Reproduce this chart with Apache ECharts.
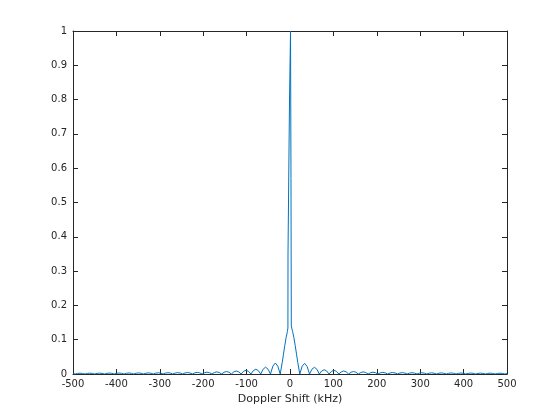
<!DOCTYPE html>
<html>
<head>
<meta charset="utf-8">
<script src="https://cdn.jsdelivr.net/npm/echarts@6/dist/echarts.min.js"></script>
<style>
html,body{margin:0;padding:0;background:#fff;}
#chart{width:560px;height:420px;}
</style>
</head>
<body>
<div id="chart"></div>
<script>
// Doppler shift (kHz) and normalized magnitude
const leftFreq = [-500,-495,-489.4,-483.75,-478.1,-472.5,-466.9,-461.25,-455.6,-450,-444.4,-438.75,-433.1,-427.5,-421.9,-416.25,-410.6,-405,-399.4,-393.75,-388.1,-382.5,-376.9,-371.25,-365.6,-360,-354.4,-348.75,-343.1,-337.5,-331.9,-326.25,-320.6,-315,-309.4,-303.75,-298.1,-292.5,-286.9,-281.25,-275.6,-270,-264.4,-258.75,-253.1,-247.5,-241.9,-236.25,-230.6,-225,-219.4,-213.75,-208.1,-202.5,-196.9,-191.25,-185.6,-180,-174.4,-168.75,-163.1,-157.5,-151.9,-146.25,-140.6,-135,-129.4,-123.75,-118.1,-112.5,-106.9,-101.25,-95.6,-90,-84.4,-78.75,-73.1,-67.5,-61.9,-56.25,-50.6,-45,-39.4,-33.75,-28.1];
const leftMag = [0.0013,0,0.0016,0.0023,0.0016,0,0.0017,0.0024,0.0017,0,0.0018,0.0025,0.0018,0,0.0019,0.0027,0.0019,0,0.0020,0.0028,0.0020,0,0.0021,0.0030,0.0021,0,0.0022,0.0031,0.0022,0,0.0023,0.0033,0.0023,0,0.0025,0.0035,0.0025,0,0.0026,0.0037,0.0026,0,0.0028,0.0040,0.0028,0,0.0030,0.0043,0.0030,0,0.0033,0.0047,0.0033,0,0.0037,0.0053,0.0037,0,0.0043,0.0062,0.0043,0,0.0051,0.0073,0.0051,0,0.0062,0.0088,0.0062,0,0.0077,0.011,0.0077,0,0.0098,0.014,0.0098,0,0.014,0.020,0.014,0,0.023,0.032,0.023];
const centerFreq = [-22.5,-18,-15,-12,-9,-6,-4.8,-4.6,-1.2,1.2,2.3,3,4,6,9,12,15,18,22.5];
const centerMag = [0,0.033,0.058,0.083,0.106,0.124,0.134,0.35,0.79,1.0,0.57,0.14,0.134,0.124,0.106,0.083,0.058,0.033,0];
const rightFreq = [28.1,33.75,39.4,45,50.6,56.25,61.9,67.5,73.1,78.75,84.4,90,95.6,101.25,106.9,112.5,118.1,123.75,129.4,135,140.6,146.25,151.9,157.5,163.1,168.75,174.4,180,185.6,191.25,196.9,202.5,208.1,213.75,219.4,225,230.6,236.25,241.9,247.5,253.1,258.75,264.4,270,275.6,281.25,286.9,292.5,298.1,303.75,309.4,315,320.6,326.25,331.9,337.5,343.1,348.75,354.4,360,365.6,371.25,376.9,382.5,388.1,393.75,399.4,405,410.6,416.25,421.9,427.5,433.1,438.75,444.4,450,455.6,461.25,466.9,472.5,478.1,483.75,489.4,495,500];
const rightMag = [0.023,0.031,0.022,0,0.014,0.0195,0.014,0,0.0088,0.0125,0.0088,0,0.0077,0.011,0.0077,0,0.0062,0.0088,0.0062,0,0.0051,0.0073,0.0051,0,0.0043,0.0062,0.0043,0,0.0037,0.0053,0.0037,0,0.0033,0.0047,0.0033,0,0.0030,0.0043,0.0030,0,0.0028,0.0040,0.0028,0,0.0026,0.0037,0.0026,0,0.0025,0.0035,0.0025,0,0.0023,0.0033,0.0023,0,0.0022,0.0031,0.0022,0,0.0021,0.0030,0.0021,0,0.0020,0.0028,0.0020,0,0.0019,0.0027,0.0019,0,0.0018,0.0025,0.0018,0,0.0017,0.0024,0.0017,0,0.0016,0.0023,0.0016,0,0.0013];
const xTicks = {min: -500, max: 500, step: 100};
const yTicks = {min: 0, max: 1, step: 0.1};
const xLabel = 'Doppler Shift (kHz)';

const freq = leftFreq.concat(centerFreq, rightFreq);
const mag = leftMag.concat(centerMag, rightMag);
const data = freq.map((f, i) => [f, mag[i]]);

const axisColor = '#262626';
const font = 'DejaVu Sans';
const common = {
  axisLine: {show: true, onZero: false, lineStyle: {color: axisColor, width: 1}},
  axisTick: {show: true, inside: true, length: 5, lineStyle: {color: axisColor, width: 1}},
  splitLine: {show: false}
};

const chart = echarts.init(document.getElementById('chart'), null, {renderer: 'canvas'});
chart.setOption({
  animation: false,
  backgroundColor: '#ffffff',
  grid: {left: 73, right: 53, top: 31, bottom: 46, containLabel: false},
  xAxis: [
    Object.assign({
      type: 'value', position: 'bottom', min: xTicks.min, max: xTicks.max, interval: xTicks.step,
      axisLabel: {color: axisColor, fontSize: 10, fontFamily: font, margin: 5},
      name: xLabel, nameLocation: 'middle', nameGap: 18,
      nameTextStyle: {color: axisColor, fontSize: 11, fontFamily: font}
    }, common),
    Object.assign({
      type: 'value', position: 'top', min: xTicks.min, max: xTicks.max, interval: xTicks.step,
      axisLabel: {show: false}
    }, common)
  ],
  yAxis: [
    Object.assign({
      type: 'value', position: 'left', min: yTicks.min, max: yTicks.max, interval: yTicks.step,
      axisLabel: {color: axisColor, fontSize: 10, fontFamily: font, margin: 6,
        formatter: v => String(Math.round(v * 10) / 10)}
    }, common),
    Object.assign({
      type: 'value', position: 'right', min: yTicks.min, max: yTicks.max, interval: yTicks.step,
      axisLabel: {show: false}
    }, common)
  ],
  series: [{
    type: 'line',
    xAxisIndex: 0, yAxisIndex: 0,
    data: data,
    showSymbol: false,
    symbol: 'none',
    lineStyle: {color: '#0072BD', width: 1},
    z: 3
  }]
});
</script>
</body>
</html>
